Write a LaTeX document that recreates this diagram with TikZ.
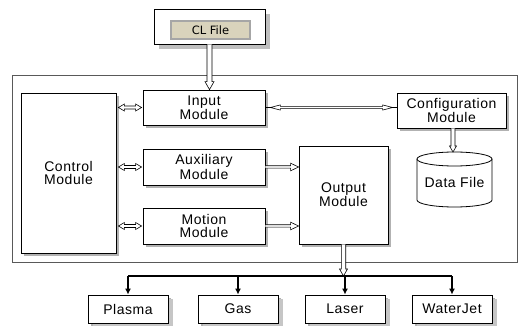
\documentclass[tikz,border=0pt]{standalone}
\usepackage{fontspec}
\setmainfont{Liberation Sans}[LetterSpace=4]
\newfontfamily\clfont{DejaVu Sans}
\usetikzlibrary{calc,arrows.meta,shadows}

% single hollow arrow: w (half shaft), h (half head), l (head length), from, to
\newcommand\hollowarr[5]{%
  \coordinate (hq) at ($(#5)!#3!(#4)$);
  \draw[line width=0.6pt, fill=white, line join=miter]
    ($(#4)!#1!90:(#5)$) -- ($(hq)!#1!90:(#5)$) -- ($(hq)!#2!90:(#5)$) -- (#5)
    -- ($(hq)!#2!-90:(#5)$) -- ($(hq)!#1!-90:(#5)$) -- ($(#4)!#1!-90:(#5)$);
}
% double-headed hollow arrow
\newcommand\hollowdbl[5]{%
  \coordinate (hqa) at ($(#4)!#3!(#5)$);
  \coordinate (hqb) at ($(#5)!#3!(#4)$);
  \draw[line width=0.6pt, fill=white, line join=miter]
    (#4) -- ($(hqa)!#2!90:(#5)$) -- ($(hqa)!#1!90:(#5)$) -- ($(hqb)!#1!90:(#5)$)
    -- ($(hqb)!#2!90:(#5)$) -- (#5) -- ($(hqb)!#2!-90:(#5)$) -- ($(hqb)!#1!-90:(#5)$)
    -- ($(hqa)!#1!-90:(#5)$) -- ($(hqa)!#2!-90:(#5)$) -- cycle;
}

\tikzset{
  box/.style={draw=black, line width=0.8pt, fill=white, inner sep=0pt, align=center,
    font=\fontsize{14}{13}\selectfont,
    drop shadow={shadow xshift=3pt, shadow yshift=-3pt, fill=gray!60, opacity=1}},
  outbox/.style={box, minimum width=80, minimum height=28,
    drop shadow={shadow xshift=5pt, shadow yshift=-4pt, fill=gray!45, opacity=1}},
  lbl/.style={inner sep=0pt, align=center, font=\fontsize{14}{13}\selectfont},
}

\begin{document}
\begin{tikzpicture}[x=1pt,y=-1pt]
\useasboundingbox (0,0) rectangle (520,326);
\fill[white] (0,0) rectangle (520,326);

% top CL file window
\node[draw=black, line width=0.8pt, fill=white, minimum width=111, minimum height=35,
  drop shadow={shadow xshift=5pt, shadow yshift=-5pt, fill=gray!50, opacity=1}]
  (cltop) at (209.5,26.5) {};
\node[draw=gray!70, line width=1.8pt, fill={rgb,255:red,217;green,211;blue,188},
  minimum width=79, minimum height=18, inner sep=0pt,
  font=\clfont\fontsize{11.5}{12}\selectfont] (clbtn) at (210.5,30) {CL File};

% main frame
\node[draw=gray!70!black, line width=0.8pt, minimum width=505, minimum height=187,
  inner sep=0pt] (frame) at (264.5,168.5) {};

% modules
\node[box, minimum width=95, minimum height=160] (ctrl) at (68.5,173) {Control\\Module};
\node[box, minimum width=122, minimum height=35] (input) at (204,107.5) {Input\\Module};
\node[box, minimum width=122, minimum height=36] (aux) at (204,167) {Auxiliary\\Module};
\node[box, minimum width=122, minimum height=36] (motion) at (204,226) {Motion\\Module};
\node[box, minimum width=109, minimum height=35] (config) at (451.5,110.5) {Configuration\\Module};
\node[box, minimum width=89, minimum height=98] (output) at (343.5,195) {Output\\Module};

% data file cylinder
\coordinate (datatop) at (454.5,152);
\draw[line width=0.8pt, fill=white] (417,159) -- (417,200)
  arc[start angle=180, end angle=360, x radius=37.5pt, y radius=7pt] -- (492,159);
\draw[line width=0.8pt, fill=white] (454.5,159) ellipse[x radius=37.5pt, y radius=7pt];
\node[lbl] (data) at (454.5,182) {Data File};

% output devices
\node[outbox] (plasma) at (128,309) {Plasma};
\node[outbox] (gas) at (238,309) {Gas};
\node[outbox] (laser) at (345,309) {Laser};
\node[outbox] (water) at (452,309) {WaterJet};

% connectors
\coordinate (c1a) at ($(ctrl.east |- input.west)+(2,0)$);
\coordinate (c1b) at ($(input.west)+(-1,0)$);
\hollowdbl{1.5pt}{3.5pt}{6pt}{c1a}{c1b}
\coordinate (c2a) at ($(ctrl.east |- aux.west)+(2,0)$);
\coordinate (c2b) at ($(aux.west)+(-1,0)$);
\hollowdbl{1.5pt}{3.5pt}{6pt}{c2a}{c2b}
\coordinate (c3a) at ($(ctrl.east |- motion.west)+(2,0)$);
\coordinate (c3b) at ($(motion.west)+(-1,0)$);
\hollowdbl{1.5pt}{3.5pt}{6pt}{c3a}{c3b}

\draw[line width=0.8pt] (input.east) -- (config.west |- input.east);
\coordinate (ica) at ($(input.east)+(5,0)$);
\coordinate (icb) at ($(config.west |- input.east)+(-4,0)$);
\hollowdbl{1.1pt}{2.6pt}{10pt}{ica}{icb}

\coordinate (ao) at (output.west |- aux.east);
\hollowarr{1.2pt}{3.8pt}{8pt}{aux.east}{ao}
\coordinate (mo) at (output.west |- motion.east);
\hollowarr{1.2pt}{3.8pt}{8pt}{motion.east}{mo}

\coordinate (cl1) at (cltop.south);
\coordinate (cl2) at (cltop.south |- input.north);
\hollowarr{2.5pt}{4.5pt}{8pt}{cl1}{cl2}

\coordinate (cd1) at ($(config.south)+(1.5,0)$);
\coordinate (cd2) at ($(config.south |- datatop)+(1.5,0)$);
\hollowarr{2pt}{3.5pt}{6pt}{cd1}{cd2}

\coordinate (bus) at (343.5,276);
\draw[line width=1.8pt] (plasma.north |- bus) -- (water.north |- bus);
\hollowarr{2.2pt}{4pt}{7pt}{output.south}{bus}

\foreach \n in {plasma,gas,laser,water}
  \draw[line width=1.2pt, -{Latex[length=6pt,width=6pt]}] (\n.north |- bus) -- (\n.north);
\end{tikzpicture}
\end{document}
